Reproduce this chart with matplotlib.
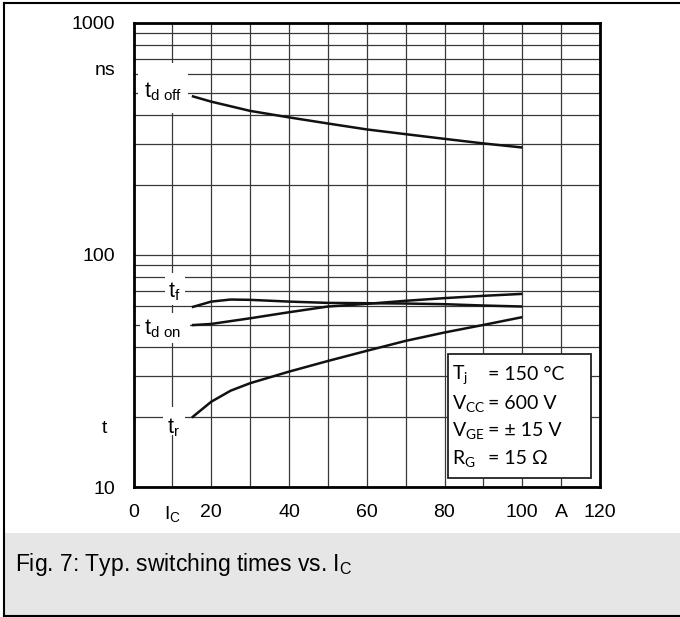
import matplotlib
matplotlib.use("Agg")
import matplotlib.pyplot as plt
from matplotlib.patches import Rectangle
from matplotlib.lines import Line2D
from matplotlib.ticker import LogLocator, NullFormatter, FixedLocator

plt.rcParams['font.family'] = ['Liberation Sans', 'DejaVu Sans']

# ---- data ----
ic_tdoff = [15, 20, 30, 40, 50, 60, 70, 80, 90, 100]
t_doff = [483, 457, 417, 391, 368, 347, 331, 316, 302, 290]

ic_tf = [15, 20, 25, 30, 40, 50, 60, 70, 80, 90, 100]
t_f = [59.5, 62.9, 64.2, 64.0, 62.9, 62.1, 61.9, 61.7, 61.3, 60.5, 59.9]

ic_tdon = [15, 20, 30, 40, 50, 60, 70, 80, 90, 100]
t_don = [49.8, 50.4, 53.3, 56.6, 59.9, 61.5, 63.4, 65.1, 66.6, 67.9]

ic_tr = [15, 20, 25, 30, 40, 50, 60, 70, 80, 90, 100]
t_r = [19.9, 23.3, 26.0, 28.0, 31.4, 34.9, 38.6, 42.6, 46.3, 49.9, 53.9]

x_ticks = [0, 10, 20, 30, 40, 50, 60, 70, 80, 90, 100, 110, 120]
x_ticklabels = ['0', r'$\mathregular{I_C}$', '20', '', '40', '', '60', '', '80', '', '100', 'A', '120']
y_ticks = [10, 100, 1000]
y_ticklabels = ['10', '100', '1000']

curve_labels = [r'$\mathregular{t_{d\ off}}$', r'$\mathregular{t_f}$',
                r'$\mathregular{t_{d\ on}}$', r'$\mathregular{t_r}$']
params_sym = [r'$\mathregular{T_j}$', r'$\mathregular{V_{CC}}$',
              r'$\mathregular{V_{GE}}$', r'$\mathregular{R_G}$']
params_val = ['= 150 °C', '= 600 V', '= ± 15 V', '= 15 Ω']
caption = r'Fig. 7: Typ. switching times vs. $\mathregular{I_C}$'

W, H = 680, 617
fig = plt.figure(figsize=(W / 100, H / 100), dpi=100)

def fx(px):
    return px / W

def fy(py):
    return 1 - py / H

# caption background + border
fig.add_artist(Rectangle((fx(4), fy(616)), fx(680) - fx(4), fy(533) - fy(616),
                         transform=fig.transFigure, facecolor='#e6e6e6', edgecolor='none', zorder=0))
fig.add_artist(Line2D([fx(4), fx(4)], [fy(3), fy(616)], transform=fig.transFigure, color='black', lw=1.5))
fig.add_artist(Line2D([fx(4), fx(680)], [fy(3), fy(3)], transform=fig.transFigure, color='black', lw=1.5))
fig.add_artist(Line2D([fx(4), fx(680)], [fy(616), fy(616)], transform=fig.transFigure, color='black', lw=1.5))
fig.text(fx(15), fy(564), caption, fontsize=16.5, ha='left', va='center')

# axes
left, right, top, bottom = 133.5, 600, 22.7, 487
ax = fig.add_axes([fx(left), fy(bottom), (right - left) / W, (bottom - top) / H])
ax.set_yscale('log')
ax.set_xlim(0, 120)
ax.set_ylim(10, 1000)
ax.xaxis.set_major_locator(FixedLocator(x_ticks))
ax.set_xticklabels(x_ticklabels)
ax.set_yticks(y_ticks)
ax.set_yticklabels(y_ticklabels)
ax.yaxis.set_minor_locator(LogLocator(base=10, subs=[2, 3, 4, 5, 6, 7, 8, 9]))
ax.yaxis.set_minor_formatter(NullFormatter())
ax.tick_params(which='both', length=0, labelsize=14)
ax.tick_params(axis='y', pad=13)
ax.tick_params(axis='x', pad=12.5)
ax.grid(True, which='both', color='#383838', lw=0.9)
for sp in ax.spines.values():
    sp.set_linewidth(2.0)
    sp.set_color('black')

# extra y-axis unit labels
ax.text(-0.038, 625, 'ns', transform=ax.get_yaxis_transform(), ha='right', va='center', fontsize=14)
ax.text(-0.057, 17.8, 't', transform=ax.get_yaxis_transform(), ha='right', va='center', fontsize=14)

# label backgrounds (white gaps in the grid)
boxes = [(1.1, 13.9, 408, 671), (8.0, 13.3, 60.9, 83.6), (1.6, 14.6, 41.8, 56.3), (7.6, 13.3, 16.8, 22.2)]
for x0, x1, y0, y1 in boxes:
    ax.add_patch(Rectangle((x0, y0), x1 - x0, y1 - y0, facecolor='white', edgecolor='none', zorder=2))

# curves
for xs, ys in [(ic_tdoff, t_doff), (ic_tf, t_f), (ic_tdon, t_don), (ic_tr, t_r)]:
    ax.plot(xs, ys, color='#111111', lw=1.8, zorder=3, solid_capstyle='butt')

label_pos = [(7.6, 504), (10.4, 69.3), (7.45, 48), (10.2, 18.0)]
for (lx, ly), lab in zip(label_pos, curve_labels):
    ax.text(lx, ly, lab, fontsize=15.5, ha='center', va='center', zorder=4)

# parameter box
bx0, bx1, by0, by1 = 447.7, 591, 354.3, 477.7
fig.add_artist(Rectangle((fx(bx0), fy(by1)), fx(bx1) - fx(bx0), fy(by0) - fy(by1),
                         transform=fig.transFigure, facecolor='white', edgecolor='#222222', lw=1.3, zorder=5))
line_y = [375, 403.3, 430.7, 458.3]
for yy, s, v in zip(line_y, params_sym, params_val):
    fig.text(fx(452.5), fy(yy), s, family=['Lato', 'DejaVu Sans'], fontsize=14, ha='left', va='center', zorder=6)
    fig.text(fx(487.5), fy(yy), v, family=['Lato', 'DejaVu Sans'], fontsize=14, ha='left', va='center', zorder=6)

fig.savefig('out.png', dpi=100)
